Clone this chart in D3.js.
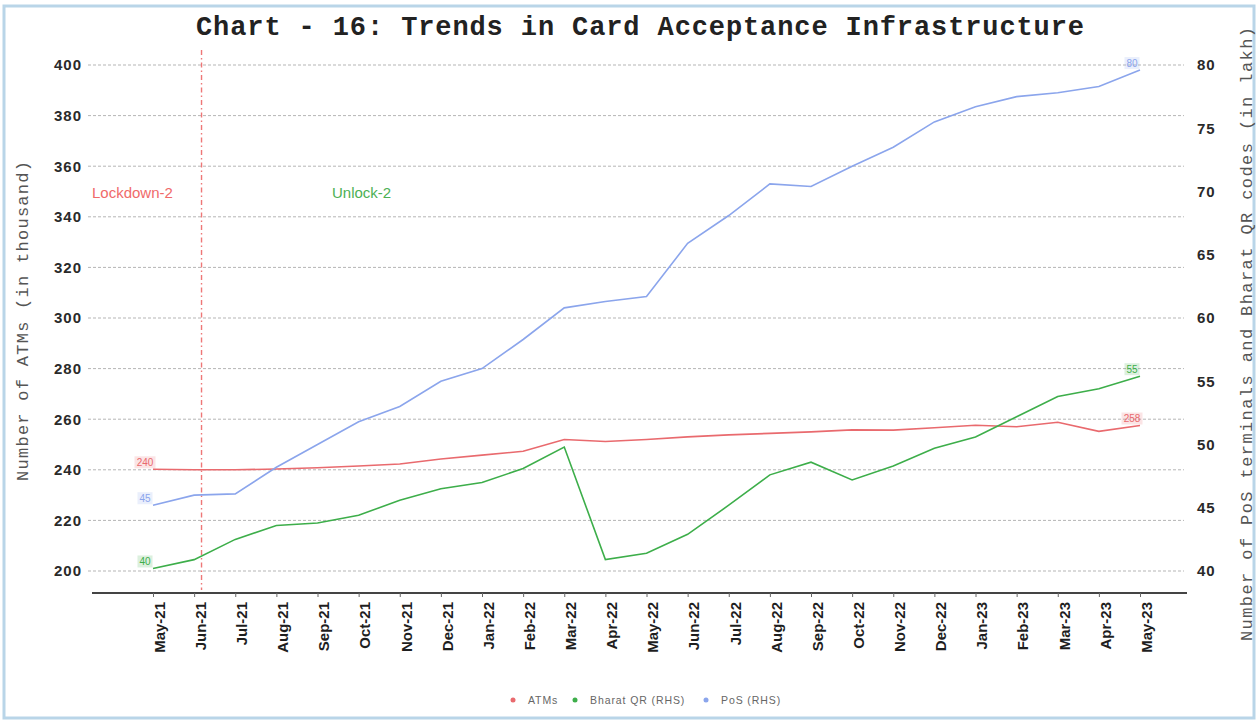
<!DOCTYPE html>
<html>
<head>
<meta charset="utf-8">
<script src="https://cdn.jsdelivr.net/npm/d3@7"></script>
<style>
  html, body { margin: 0; padding: 0; background: #fff; }
  svg { display: block; }
</style>
</head>
<body>
<svg id="chart" width="1257" height="721"></svg>
<script>
// ---------------- DATA ----------------
const months = ["May-21","Jun-21","Jul-21","Aug-21","Sep-21","Oct-21","Nov-21","Dec-21",
  "Jan-22","Feb-22","Mar-22","Apr-22","May-22","Jun-22","Jul-22","Aug-22","Sep-22","Oct-22",
  "Nov-22","Dec-22","Jan-23","Feb-23","Mar-23","Apr-23","May-23"];
// ATMs, in thousand (LHS)
const atms = [240.2, 240.0, 240.0, 240.3, 240.8, 241.5, 242.3, 244.3, 245.8, 247.3, 252.0, 251.2,
  252.0, 253.0, 253.8, 254.4, 255.0, 255.8, 255.7, 256.6, 257.6, 257.0, 258.8, 255.2, 257.5];
// Bharat QR codes, in lakh (RHS)
const bharatQR = [40.2, 40.9, 42.5, 43.6, 43.8, 44.4, 45.6, 46.5, 47.0, 48.1, 49.8, 40.9,
  41.4, 42.9, 45.2, 47.6, 48.6, 47.2, 48.3, 49.7, 50.6, 52.2, 53.8, 54.4, 55.4];
// PoS terminals, in lakh (RHS)
const pos = [45.2, 46.0, 46.1, 48.2, 50.0, 51.8, 53.0, 55.0, 56.0, 58.3, 60.8, 61.3,
  61.7, 65.9, 68.1, 70.6, 70.4, 72.0, 73.5, 75.5, 76.7, 77.5, 77.8, 78.3, 79.6];
const leftTicks = [200, 220, 240, 260, 280, 300, 320, 340, 360, 380, 400];
const rightTicks = [40, 45, 50, 55, 60, 65, 70, 75, 80];
const seriesNames = ["ATMs", "Bharat QR (RHS)", "PoS (RHS)"];
const seriesColors = ["#e96a6e", "#3dae4a", "#8ba5ec"];
const titleText = "Chart - 16: Trends in Card Acceptance Infrastructure";
const leftTitle = "Number of ATMs (in thousand)";
const rightTitle = "Number of PoS terminals and Bharat QR codes (in lakh)";
const phaseLabels = ["Lockdown-2", "Unlock-2"];
const phaseMonth = "Jun-21";

// ---------------- CHART ----------------
const svg = d3.select("#chart");

// outer frame
svg.append("rect").attr("x", 4).attr("y", 6).attr("width", 1250).attr("height", 712)
  .attr("fill", "#fff").attr("stroke", "#b9d5e8").attr("stroke-width", 3);

const x = d3.scalePoint().domain(months).range([153, 1140]);
const yL = d3.scaleLinear().domain([200, 400]).range([571, 65]);
const yR = d3.scaleLinear().domain([40, 80]).range([571, 65]);
const axisY = 593;

// title
svg.append("text").attr("x", 640).attr("y", 35)
  .attr("text-anchor", "middle")
  .attr("font-family", "'Liberation Mono', 'Courier New', monospace")
  .attr("font-weight", "bold").attr("font-size", 27)
  .attr("textLength", 888).attr("lengthAdjust", "spacing")
  .attr("fill", "#222").text(titleText);

// gridlines
svg.append("g").selectAll("line").data(leftTicks).join("line")
  .attr("x1", 88).attr("x2", 1184)
  .attr("y1", d => yL(d)).attr("y2", d => yL(d))
  .attr("stroke", "#b5b5b5").attr("stroke-width", 1)
  .attr("stroke-dasharray", "3,2");

// left axis
const gL = svg.append("g").attr("transform", "translate(86,0)")
  .call(d3.axisLeft(yL).tickValues(leftTicks).tickSize(0).tickPadding(4));
gL.select(".domain").remove();
gL.selectAll("text").attr("font-family", "Arial, 'Liberation Sans', sans-serif")
  .attr("font-weight", "bold").attr("font-size", 15).attr("letter-spacing", 1)
  .attr("fill", "#2a2a2a");

// right axis
const gR = svg.append("g").attr("transform", "translate(1193,0)")
  .call(d3.axisRight(yR).tickValues(rightTicks).tickSize(0).tickPadding(4));
gR.select(".domain").remove();
gR.selectAll("text").attr("font-family", "Arial, 'Liberation Sans', sans-serif")
  .attr("font-weight", "bold").attr("font-size", 15).attr("letter-spacing", 1)
  .attr("fill", "#2a2a2a");

// x axis
const gX = svg.append("g").attr("transform", `translate(0,${axisY})`)
  .call(d3.axisBottom(x).tickSize(4).tickSizeOuter(0));
gX.select(".domain").remove();
gX.insert("line", ":first-child").attr("x1", 92).attr("x2", 1187).attr("y1", 0).attr("y2", 0)
  .attr("stroke", "#444").attr("stroke-width", 2);
gX.selectAll(".tick line").attr("stroke", "#666");
gX.selectAll(".tick text")
  .attr("transform", "rotate(-90)")
  .attr("x", -9).attr("y", 6).attr("dy", "0.35em")
  .attr("text-anchor", "end")
  .attr("font-family", "Arial, 'Liberation Sans', sans-serif")
  .attr("font-weight", "bold").attr("font-size", 15)
  .attr("fill", "#1e1e1e");

// axis titles
svg.append("text")
  .attr("transform", "translate(28,321) rotate(-90)")
  .attr("text-anchor", "middle")
  .attr("font-family", "'Liberation Mono', 'Courier New', monospace")
  .attr("font-size", 17).attr("textLength", 320).attr("lengthAdjust", "spacing")
  .attr("fill", "#555").text(leftTitle);
svg.append("text")
  .attr("transform", "translate(1252,334) rotate(-90)")
  .attr("text-anchor", "middle")
  .attr("font-family", "'Liberation Mono', 'Courier New', monospace")
  .attr("font-size", 17).attr("textLength", 614).attr("lengthAdjust", "spacing")
  .attr("fill", "#555").text(rightTitle);

// phase divider
const divX = x(phaseMonth) + x.step() * 0.18;
svg.append("line").attr("x1", divX).attr("x2", divX).attr("y1", 50).attr("y2", 590)
  .attr("stroke", "#ee7777").attr("stroke-width", 1.4)
  .attr("stroke-dasharray", "5,3,1.5,3");
svg.append("text").attr("x", 92).attr("y", 198)
  .attr("font-family", "Arial, 'Liberation Sans', sans-serif").attr("font-size", 15)
  .attr("fill", "#f06a6a").text(phaseLabels[0]);
svg.append("text").attr("x", 332).attr("y", 198)
  .attr("font-family", "Arial, 'Liberation Sans', sans-serif").attr("font-size", 15)
  .attr("fill", "#4cb054").text(phaseLabels[1]);

// lines
const series = [
  { name: seriesNames[0], values: atms, y: yL, color: seriesColors[0] },
  { name: seriesNames[1], values: bharatQR, y: yR, color: seriesColors[1] },
  { name: seriesNames[2], values: pos, y: yR, color: seriesColors[2] }
];
series.forEach(s => {
  const line = d3.line().x((d, i) => x(months[i])).y(d => s.y(d));
  svg.append("path").datum(s.values).attr("d", line)
    .attr("fill", "none").attr("stroke", s.color).attr("stroke-width", 1.6);
});

// end-point data labels
series.forEach(s => {
  [0, s.values.length - 1].forEach(i => {
    const v = s.values[i];
    const cx = x(months[i]) - 8;
    const cy = s.y(v) - 7;
    const txt = String(Math.round(v));
    const w = txt.length * 6 + 3;
    svg.append("rect").attr("x", cx - w / 2).attr("y", cy - 6).attr("width", w).attr("height", 12)
      .attr("fill", s.color).attr("fill-opacity", 0.18);
    svg.append("text").attr("x", cx).attr("y", cy).attr("dy", "0.35em")
      .attr("text-anchor", "middle")
      .attr("font-family", "Arial, 'Liberation Sans', sans-serif").attr("font-size", 10)
      .attr("fill", s.color).text(txt);
  });
});

// legend
const legendX = [513, 575, 706];
series.forEach((s, i) => {
  const g = svg.append("g").attr("transform", `translate(${legendX[i]},700)`);
  g.append("circle").attr("cx", 0).attr("cy", 0).attr("r", 2.5).attr("fill", s.color);
  g.append("text").attr("x", 15).attr("y", 0).attr("dy", "0.35em")
    .attr("font-family", "Arial, 'Liberation Sans', sans-serif").attr("font-size", 10.5)
    .attr("letter-spacing", 0.9)
    .attr("fill", "#666").text(s.name);
});
</script>
</body>
</html>
